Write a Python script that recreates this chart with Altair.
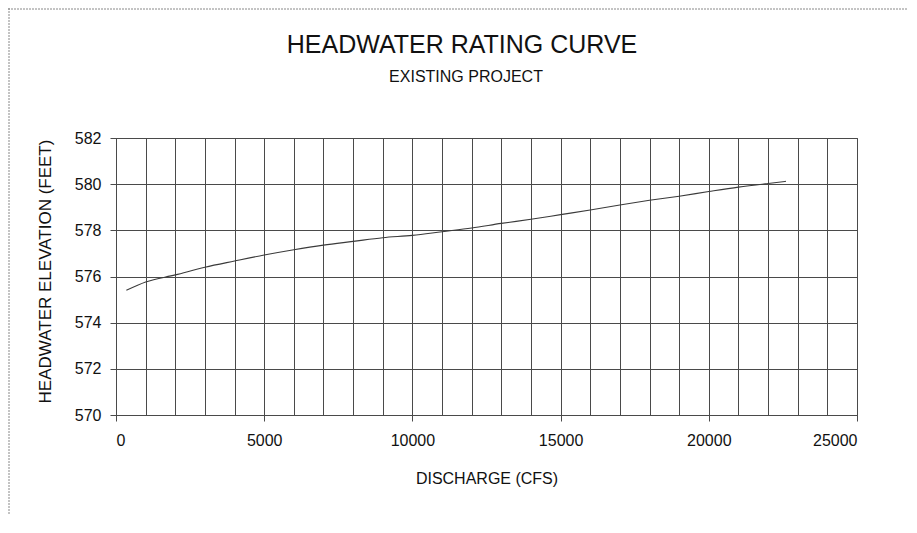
import altair as alt
import pandas as pd

title_text = ["HEADWATER RATING CURVE"]
subtitle_text = ["EXISTING PROJECT"]

discharge = [350, 1000, 2000, 3000, 4000, 5000, 6000, 7000, 8000, 9000, 10000,
             11000, 12000, 13000, 14000, 15000, 16000, 17000, 18000, 19000,
             20000, 21000, 22000, 22600]
elevation = [575.40, 575.76, 576.07, 576.40, 576.67, 576.93, 577.16, 577.36,
             577.52, 577.68, 577.78, 577.94, 578.10, 578.30, 578.48, 578.68,
             578.88, 579.10, 579.30, 579.48, 579.68, 579.87, 580.03, 580.12]

x_grid = list(range(0, 25001, 1000))
y_ticks = [570, 572, 574, 576, 578, 580, 582]

df = pd.DataFrame({"q": discharge, "h": elevation})
one = pd.DataFrame({"title": title_text, "subtitle": subtitle_text})

FONT = "Liberation Sans, Arial, sans-serif"
GRID = "#4a4a4a"

line = alt.Chart(df).mark_line(color="#3a3a3a", strokeWidth=1.1, interpolate="monotone").encode(
    x=alt.X("q:Q", scale=alt.Scale(domain=[0, 25000], nice=False),
            axis=alt.Axis(values=x_grid, title="DISCHARGE (CFS)",
                          labelExpr="datum.value % 5000 === 0 ? datum.label : ''",
                          format="d", labelFontSize=16, labelPadding=11,
                          tickSize=6,
                          tickOpacity={"condition": {"test": "datum.value % 5000 === 0", "value": 1}, "value": 0},
                          titleFontSize=16, titleFontWeight="normal",
                          titleBaseline="alphabetic", titleY=68,
                          grid=True, gridColor=GRID, gridWidth=1)),
    y=alt.Y("h:Q", scale=alt.Scale(domain=[570, 582], nice=False, zero=False),
            axis=alt.Axis(values=y_ticks, title="HEADWATER ELEVATION (FEET)",
                          format="d", labelFontSize=16, labelPadding=9, tickSize=6,
                          titleFontSize=17, titleFontWeight="normal",
                          titleBaseline="alphabetic", titleX=-66, titleY=133,
                          titleAngle=-90, titleAlign="center",
                          grid=True, gridColor=GRID, gridWidth=1)),
)

title_mark = alt.Chart(one).mark_text(
    font=FONT, fontSize=25, color="#111111", align="center", baseline="alphabetic"
).encode(text="title:N", x=alt.value(346), y=alt.value(-85))

subtitle_mark = alt.Chart(one).mark_text(
    font=FONT, fontSize=16, color="#111111", align="center", baseline="alphabetic"
).encode(text="subtitle:N", x=alt.value(350), y=alt.value(-56))

frame_left = alt.Chart(one).mark_rule(color="#888888", strokeWidth=1, strokeDash=[2, 1]).encode(
    x=alt.value(-107), y=alt.value(-130), y2=alt.value(400))
frame_top = alt.Chart(one).mark_rule(color="#888888", strokeWidth=1, strokeDash=[2, 1]).encode(
    x=alt.value(-108), x2=alt.value(795), y=alt.value(-129))

chart = alt.layer(line, title_mark, subtitle_mark, frame_left, frame_top).properties(
    width=741, height=277,
    autosize=alt.AutoSizeParams(type="none"),
    padding={"left": 108, "top": 130, "right": 50, "bottom": 100},
).configure_axis(
    labelFont=FONT, titleFont=FONT, labelColor="#111111", titleColor="#111111",
    domainColor=GRID, tickColor=GRID,
).configure_view(stroke=GRID, strokeWidth=1)

chart.save("out.html", embed_options={"renderer": "svg", "actions": False})
